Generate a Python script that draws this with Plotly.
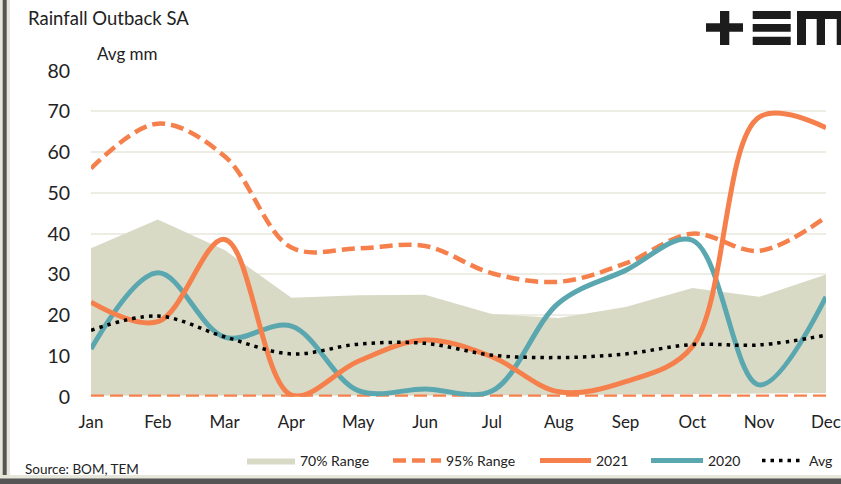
import plotly.graph_objects as go

W, H = 841, 484

months = ["Jan", "Feb", "Mar", "Apr", "May", "Jun", "Jul", "Aug", "Sep", "Oct", "Nov", "Dec"]
range70_low = [0.3, 0.3, 0.3, 0.2, 0.2, 0.2, 0.3, 0.4, 0.5, 0.7, 0.8, 0.9]
range70_high = [36.4, 43.5, 36.0, 24.3, 24.9, 25.0, 20.3, 19.3, 22.0, 26.7, 24.5, 30.0]
range95_low = [0, 0, 0, 0, 0, 0, 0, 0, 0, 0, 0, 0]
range95_high = [56.0, 67.0, 59.0, 36.6, 36.4, 37.0, 30.3, 28.2, 32.7, 40.0, 35.8, 44.1]
y2021 = [23.2, 18.4, 38.6, 0.4, 8.7, 13.9, 9.8, 1.2, 3.7, 12.3, 68.6, 66.0]
y2020 = [11.7, 30.4, 14.6, 17.3, 1.5, 1.9, 1.4, 23.0, 31.0, 38.4, 2.9, 24.5]
avg = [16.3, 19.8, 14.7, 10.5, 12.9, 13.1, 10.2, 9.6, 10.5, 12.8, 12.7, 15.1]
y_ticks = [0, 10, 20, 30, 40, 50, 60, 70, 80]

ORANGE = "#F5804C"
TEAL = "#5BA7AF"
AREA = "#D9DAC6"
GRID = "#EEEDE4"
FONT = "Lato"


def px(x):
    return x / W


def py(y):
    return 1 - y / H


fig = go.Figure()

fig.add_trace(go.Scatter(x=months, y=range70_low, mode="lines", line=dict(width=0),
                         showlegend=False, hoverinfo="skip"))
fig.add_trace(go.Scatter(x=months, y=range70_high, mode="lines", line=dict(width=0),
                         fill="tonexty", fillcolor=AREA, name="70% Range", legend="legend"))
fig.add_trace(go.Scatter(x=months, y=range95_low, mode="lines",
                         line=dict(color=ORANGE, width=4.5, dash="13px,6px"),
                         showlegend=False, cliponaxis=False))
fig.add_trace(go.Scatter(x=months, y=range95_high, mode="lines",
                         line=dict(color=ORANGE, width=4.5, dash="13px,6px", shape="spline", smoothing=1),
                         name="95% Range", legend="legend2", cliponaxis=False))
fig.add_trace(go.Scatter(x=months, y=y2020, mode="lines",
                         line=dict(color=TEAL, width=5, shape="spline", smoothing=1),
                         name="2020", legend="legend4", cliponaxis=False))
fig.add_trace(go.Scatter(x=months, y=y2021, mode="lines",
                         line=dict(color=ORANGE, width=5, shape="spline", smoothing=1),
                         name="2021", legend="legend3", cliponaxis=False))
fig.add_trace(go.Scatter(x=months, y=avg, mode="lines",
                         line=dict(color="#000000", width=3.5, dash="3.5px,5px", shape="spline", smoothing=1),
                         name="Avg", legend="legend5", cliponaxis=False))

legend_common = dict(orientation="h", yanchor="middle", y=py(461), xanchor="left",
                     bgcolor="rgba(0,0,0,0)", borderwidth=0,
                     font=dict(family=FONT, size=14, color="#222222"))
fig.update_layout(
    legend=dict(legend_common, x=px(242), itemwidth=48),
    legend2=dict(legend_common, x=px(388), itemwidth=48),
    legend3=dict(legend_common, x=px(535), itemwidth=51),
    legend4=dict(legend_common, x=px(646), itemwidth=52),
    legend5=dict(legend_common, x=px(757), itemwidth=42),
)

fig.update_layout(
    width=W, height=H,
    margin=dict(l=0, r=0, t=0, b=0, pad=0, autoexpand=False),
    paper_bgcolor="white", plot_bgcolor="white",
    font=dict(family=FONT, color="#222222"),
    xaxis=dict(domain=[px(91), px(826)], range=[0, 11], showgrid=False, zeroline=False,
               showline=False, ticks="", tickfont=dict(size=17, color="#222222"),
               ticklabelstandoff=13, fixedrange=True, automargin=False),
    yaxis=dict(domain=[py(396.7), py(70.7)], range=[0, 80], tickvals=y_ticks,
               showgrid=True, gridcolor=GRID, gridwidth=1.5, zeroline=False, showline=False,
               ticks="", tickfont=dict(size=19.5, color="#222222"), ticklabelstandoff=20,
               fixedrange=True, automargin=False),
    showlegend=True,
)

fig.add_annotation(text="Rainfall Outback SA", xref="paper", yref="paper", x=px(26), y=py(18),
                   xanchor="left", yanchor="middle", showarrow=False,
                   font=dict(family=FONT, size=18.5, color="#222222"))
fig.add_annotation(text="Avg mm", xref="paper", yref="paper", x=px(95), y=py(54),
                   xanchor="left", yanchor="middle", showarrow=False,
                   font=dict(family=FONT, size=17, color="#222222"))
fig.add_annotation(text="Source: BOM, TEM", xref="paper", yref="paper", x=px(23), y=py(469),
                   xanchor="left", yanchor="middle", showarrow=False,
                   font=dict(family=FONT, size=13.5, color="#222222"))

# logo
logo_rects = [
    (706, 23.3, 743, 31.7), (720, 11, 729.3, 45),
    (752.7, 11, 790.7, 19), (752.7, 24, 790.7, 31.7), (752.7, 36.7, 790.7, 45),
    (797, 11, 841, 19), (797, 11, 806, 45), (816.7, 11, 825, 45), (836.7, 11, 841, 45),
]
for x0, y0, x1, y1 in logo_rects:
    fig.add_shape(type="rect", xref="paper", yref="paper", x0=px(x0), x1=px(x1), y0=py(y1), y1=py(y0),
                  fillcolor="#1C1C1C", line=dict(width=0), layer="above")

# frame
fig.add_shape(type="rect", xref="paper", yref="paper", x0=0, x1=px(10), y0=0, y1=1,
              fillcolor="#E6E6DA", line=dict(width=0))
fig.add_shape(type="rect", xref="paper", yref="paper", x0=px(2.7), x1=px(6.7), y0=0, y1=1,
              fillcolor="#555555", line=dict(width=0))
fig.add_shape(type="rect", xref="paper", yref="paper", x0=0, x1=1, y0=0, y1=py(475),
              fillcolor="#E6E6DA", line=dict(width=0))
fig.add_shape(type="rect", xref="paper", yref="paper", x0=0, x1=1, y0=0, y1=py(478.5),
              fillcolor="#555555", line=dict(width=0))

fig.write_html(
    "out.html",
    config={"displayModeBar": False},
    post_script="document.body.style.margin='0';document.body.style.padding='0';"
                "document.body.style.overflow='hidden';",
)
